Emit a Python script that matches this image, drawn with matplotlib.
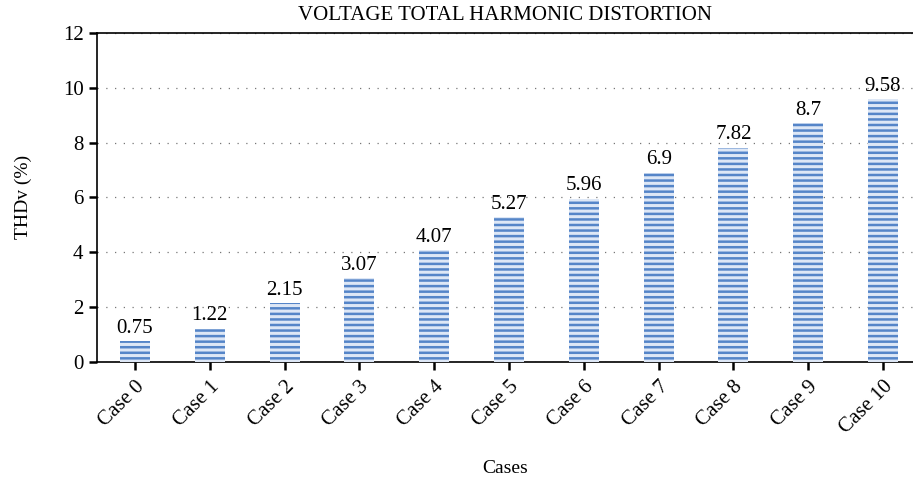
import matplotlib.pyplot as plt

# data
cases = ["Case 0", "Case 1", "Case 2", "Case 3", "Case 4", "Case 5",
         "Case 6", "Case 7", "Case 8", "Case 9", "Case 10"]
thdv = [0.75, 1.22, 2.15, 3.07, 4.07, 5.27, 5.96, 6.9, 7.82, 8.7, 9.58]
labels = ["0.75", "1.22", "2.15", "3.07", "4.07", "5.27", "5.96", "6.9", "7.82", "8.7", "9.58"]

plt.rcParams['font.family'] = ['Liberation Serif', 'DejaVu Serif']
plt.rcParams['hatch.linewidth'] = 1.8

fig = plt.figure(figsize=(9.13, 4.83), dpi=100)
ax = fig.add_axes([0.106, 0.2505, 0.894, 0.6815])

x = range(len(cases))
bars = ax.bar(x, thdv, width=0.4, color='#dde7f6', edgecolor='#5585c8',
              hatch='---', linewidth=0, zorder=3)

# value labels
for xi, v, t in zip(x, thdv, labels):
    ax.text(xi, v + 0.12, t, ha='center', va='bottom', fontsize=15, zorder=4)

ax.set_ylim(0, 12)
ax.set_xlim(-0.51, 10.4)
ax.set_yticks(range(0, 13, 2))
ax.set_xticks(list(x))
ax.set_xticklabels(cases, rotation=45, ha='right', rotation_mode='anchor')

ax.yaxis.grid(True, linestyle=(0, (1, 6)), color='#777777', linewidth=0.9)
ax.set_axisbelow(True)

ax.spines['right'].set_visible(False)
for s in ['left', 'bottom', 'top']:
    ax.spines[s].set_linewidth(1.2)
ax.tick_params(axis='both', direction='out', length=6, width=1.8, labelsize=15)
ax.tick_params(axis='x', pad=5)

ax.set_title("VOLTAGE TOTAL HARMONIC DISTORTION", fontsize=15, pad=9.5)
ax.set_ylabel("THDv (%)", fontsize=14, labelpad=22)
ax.set_xlabel("Cases", fontsize=14, labelpad=16)

fig.savefig("out.png", dpi=100)
